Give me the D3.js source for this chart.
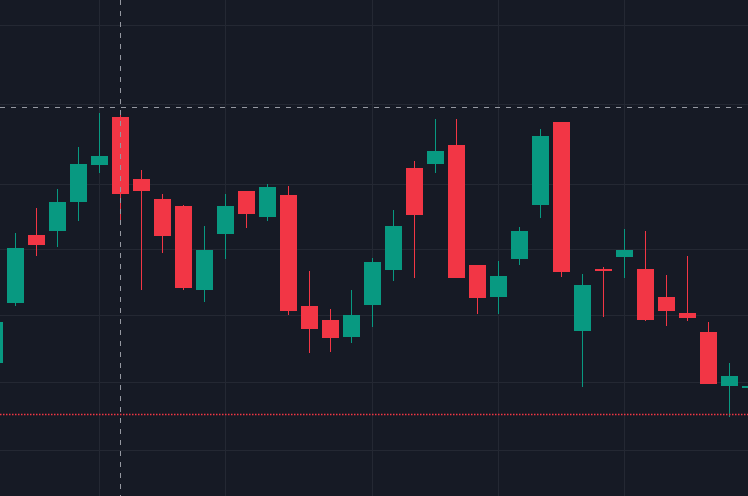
<!DOCTYPE html>
<html>
<head>
    <meta charset="utf-8">
    <title>Candles</title>
    <script src="https://d3js.org/d3.v7.min.js"></script>
    <style>
        html, body { margin: 0; padding: 0; background: #161a25; }
        svg { display: block; }
    </style>
</head>
<body>
    <script>
        var width = 748;
        var height = 496;

        // one entry per candle, first one is cut off at the left edge
        var times = ["2024-02-26","2024-02-27","2024-02-28","2024-02-29","2024-03-01","2024-03-02","2024-03-03",
            "2024-03-04","2024-03-05","2024-03-06","2024-03-07","2024-03-08","2024-03-09","2024-03-10",
            "2024-03-11","2024-03-12","2024-03-13","2024-03-14","2024-03-15","2024-03-16","2024-03-17",
            "2024-03-18","2024-03-19","2024-03-20","2024-03-21","2024-03-22","2024-03-23","2024-03-24",
            "2024-03-25","2024-03-26","2024-03-27","2024-03-28","2024-03-29","2024-03-30","2024-03-31",
            "2024-04-01","2024-04-02"];
        var open  = [66.284,67.182,68.215,68.277,68.723,69.297,70.047,69.078,68.769,68.662,67.379,68.231,68.892,
            68.492,68.831,67.136,66.925,66.672,67.152,67.682,69.250,69.313,69.609,67.758,67.273,67.848,
            68.677,69.969,66.761,67.697,67.879,67.697,67.273,67.030,66.746,65.941,65.912];
        var high  = [66.955,68.246,68.631,68.923,69.578,70.109,70.078,69.219,68.846,68.670,68.354,68.846,68.892,
            69.000,68.969,67.667,67.091,67.379,67.864,68.600,69.359,70.016,70.016,67.758,67.818,68.338,
            69.859,69.969,67.621,67.727,68.308,68.277,67.606,67.894,66.896,66.284,65.941];
        var low   = [66.209,67.136,67.894,68.031,68.431,69.172,68.446,67.379,67.939,67.379,67.197,67.848,68.323,
            68.431,67.000,66.433,66.448,66.582,66.821,67.515,67.561,69.172,67.561,67.015,67.015,67.758,
            68.477,67.576,65.926,66.970,67.561,66.910,66.836,66.910,65.971,65.485,65.912];
        var close = [66.896,68.015,68.062,68.723,69.313,69.438,68.846,68.892,68.200,67.409,67.985,68.662,68.538,
            68.954,67.061,66.791,66.657,67.000,67.803,68.354,68.523,69.516,67.561,67.258,67.591,68.277,
            69.750,67.652,67.455,67.667,67.985,66.925,67.061,66.955,65.971,66.090,65.941];

        var priceTicks = [65, 66, 67, 68, 69, 70.25, 71.5];
        var timeTicks = ["2024-03-02", "2024-03-08", "2024-03-15", "2024-03-21", "2024-03-27"];
        var crosshairTime = "2024-03-03";
        var crosshairPrice = 70.203;
        var lastPrice = 65.529;

        var upColor = "#089981";
        var downColor = "#f23645";

        var candles = times.map(function(t, i) {
            return { time: t, i: i, o: open[i], h: high[i], l: low[i], c: close[i] };
        });

        var x = d3.scaleLinear()
            .domain([0, times.length - 1])
            .range([-5.5, 750.5]);
        var y = d3.scaleLog()
            .domain([64.332, 71.910])
            .range([height, 0]);
        var barWidth = 17;

        var svg = d3.select("body").append("svg")
            .attr("width", width)
            .attr("height", height);

        svg.append("rect")
            .attr("width", width)
            .attr("height", height)
            .attr("fill", "#161a25");

        var grid = svg.append("g")
            .attr("shape-rendering", "crispEdges")
            .style("stroke", "#242833")
            .style("stroke-width", 1);
        grid.selectAll("line.h")
            .data(priceTicks)
            .enter().append("line")
            .attr("class", "h")
            .attr("x1", 0).attr("x2", width)
            .attr("y1", function(d) { return Math.round(y(d)) + 0.5; })
            .attr("y2", function(d) { return Math.round(y(d)) + 0.5; });
        grid.selectAll("line.v")
            .data(timeTicks)
            .enter().append("line")
            .attr("class", "v")
            .attr("x1", function(d) { return x(times.indexOf(d)); })
            .attr("x2", function(d) { return x(times.indexOf(d)); })
            .attr("y1", 0).attr("y2", height);

        var bars = svg.selectAll("g.candle")
            .data(candles)
            .enter().append("g")
            .attr("class", "candle")
            .attr("shape-rendering", "crispEdges");

        bars.append("line")
            .attr("x1", function(d) { return x(d.i); })
            .attr("x2", function(d) { return x(d.i); })
            .attr("y1", function(d) { return y(d.h); })
            .attr("y2", function(d) { return y(d.l); })
            .style("stroke", function(d) { return d.c >= d.o ? upColor : downColor; })
            .style("stroke-width", 1);

        bars.append("rect")
            .attr("x", function(d) { return x(d.i) - barWidth / 2; })
            .attr("width", barWidth)
            .attr("y", function(d) { return y(Math.max(d.o, d.c)); })
            .attr("height", function(d) { return Math.max(1, Math.abs(y(d.o) - y(d.c))); })
            .attr("fill", function(d) { return d.c >= d.o ? upColor : downColor; });

        // last price line
        svg.append("line")
            .attr("x1", 0).attr("x2", width)
            .attr("y1", Math.round(y(lastPrice)) + 0.5)
            .attr("y2", Math.round(y(lastPrice)) + 0.5)
            .style("stroke", downColor)
            .style("stroke-width", 1.5)
            .style("stroke-dasharray", "1.5,1.5");

        // crosshair
        var cross = svg.append("g")
            .attr("shape-rendering", "crispEdges")
            .style("stroke", "#9598a1")
            .style("stroke-width", 1)
            .style("stroke-dasharray", "5,6");
        cross.append("line")
            .attr("x1", x(times.indexOf(crosshairTime)))
            .attr("x2", x(times.indexOf(crosshairTime)))
            .attr("y1", 0).attr("y2", height);
        cross.append("line")
            .attr("x1", 0).attr("x2", width)
            .attr("y1", Math.round(y(crosshairPrice)) + 0.5)
            .attr("y2", Math.round(y(crosshairPrice)) + 0.5);
    </script>
</body>
</html>
